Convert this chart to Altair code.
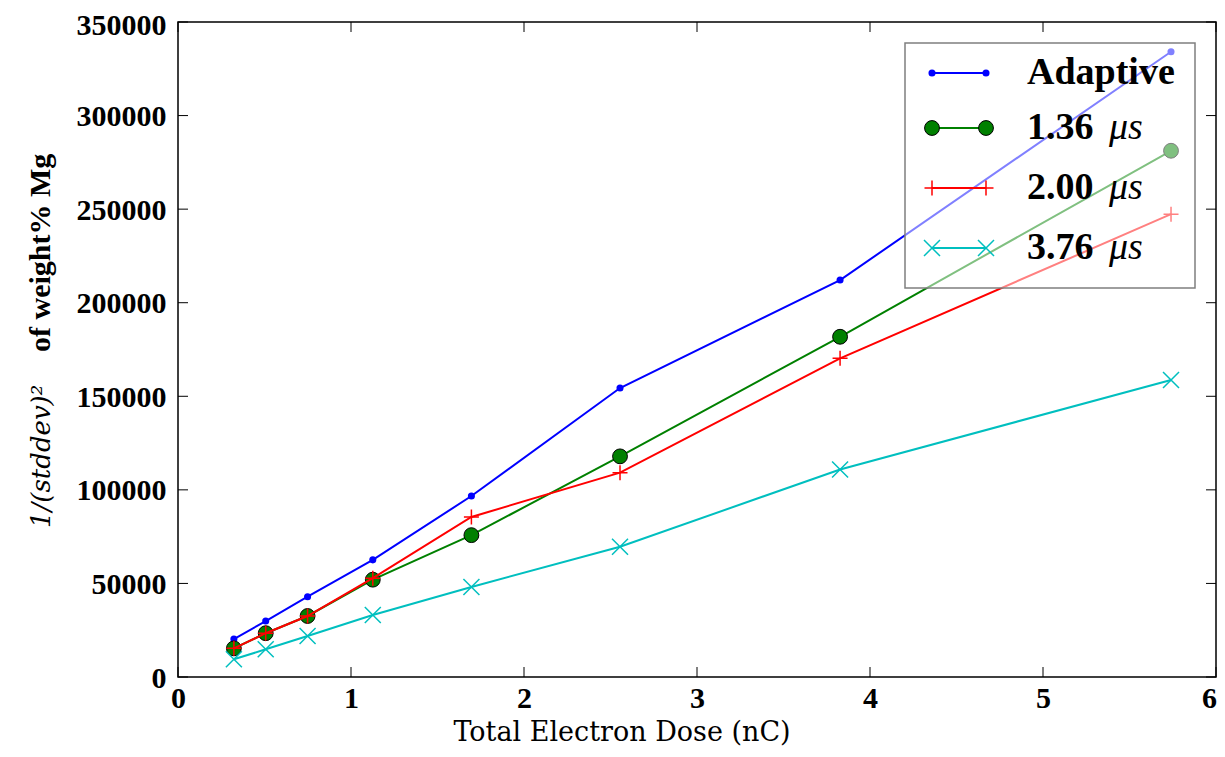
import altair as alt
import pandas as pd

# ---- data ----
dose = [0.323, 0.507, 0.749, 1.126, 1.696, 2.555, 3.827, 5.740]
adaptive = [20300, 29900, 42900, 62600, 96700, 154400, 212100, 334100]
us_136 = [15300, 23400, 32600, 52000, 75800, 117900, 181800, 281200]
us_200 = [15300, 23400, 32600, 52800, 85500, 109200, 170300, 247300]
us_376 = [9500, 14800, 21900, 33100, 48100, 69600, 110900, 158700]

series_names = ["Adaptive", "1.36", "2.00", "3.76"]
series_values = [adaptive, us_136, us_200, us_376]
series_colors = ["#0000ff", "#008000", "#ff0000", "#00bfbf"]

x_ticks = [0, 1, 2, 3, 4, 5, 6]
y_ticks = [0, 50000, 100000, 150000, 200000, 250000, 300000, 350000]

x_title = "Total Electron Dose (nC)"
y_title_math = "1/(stddev)²"
y_title_text = "of weight% Mg"

# ---- layout ----
W, H = 1038, 655
FONT = "DejaVu Serif"
BFONT = "Liberation Serif"
TICK = 10

rows = []
for name, vals in zip(series_names, series_values):
    for d, v in zip(dose, vals):
        rows.append({"series": name, "dose": d, "value": v})
df = pd.DataFrame(rows)

x_scale = alt.Scale(domain=[0, 6], nice=False, zero=False)
y_scale = alt.Scale(domain=[0, 350000], nice=False, zero=False)

label_kw = dict(labelFont=BFONT, labelFontSize=30, labelFontWeight="bold",
                labelColor="black", ticks=False, tickSize=0, domain=False,
                grid=False, title=None, labelFlush=False)
x_axis = alt.Axis(values=x_ticks, format="d", labelPadding=6,
                  labelOffset={"condition": {"test": "datum.value == 6", "value": -7}, "value": 0},
                  **label_kw)
y_axis = alt.Axis(values=y_ticks, format="d", labelPadding=12,
                  labelOffset={"condition": {"test": "datum.value == 350000", "value": 3}, "value": 1},
                  **label_kw)
X = alt.X("dose:Q", scale=x_scale, axis=x_axis)
Y = alt.Y("value:Q", scale=y_scale, axis=y_axis)

base = alt.Chart(df)


def sel(name):
    return base.transform_filter(alt.datum.series == name)


PLUS = "M-1,0L1,0M0,-1L0,1"
CROSS = "M-1,-1L1,1M-1,1L1,-1"

layers = []
# Adaptive
layers.append(sel("Adaptive").mark_line(color=series_colors[0], strokeWidth=2).encode(x=X, y=Y))
layers.append(sel("Adaptive").mark_circle(color=series_colors[0], size=50, opacity=1).encode(x=X, y=Y))
# 1.36
layers.append(sel("1.36").mark_line(color=series_colors[1], strokeWidth=2).encode(x=X, y=Y))
layers.append(sel("1.36").mark_point(shape="circle", filled=True, size=220, color=series_colors[1],
                                     fill=series_colors[1], stroke="black", strokeWidth=1,
                                     opacity=1, fillOpacity=1, strokeOpacity=1).encode(x=X, y=Y))
# 2.00
layers.append(sel("2.00").mark_line(color=series_colors[2], strokeWidth=2).encode(x=X, y=Y))
layers.append(sel("2.00").mark_point(shape=PLUS, filled=False, size=225, color=series_colors[2],
                                     strokeWidth=1.5, opacity=1).encode(x=X, y=Y))
# 3.76
layers.append(sel("3.76").mark_line(color=series_colors[3], strokeWidth=2).encode(x=X, y=Y))
layers.append(sel("3.76").mark_point(shape=CROSS, filled=False, size=256, color=series_colors[3],
                                     strokeWidth=1.5, opacity=1).encode(x=X, y=Y))

# inward ticks on all four sides (same scales and axes as the data)
xt = alt.Chart(pd.DataFrame({"dose": x_ticks}))
yt = alt.Chart(pd.DataFrame({"value": y_ticks}))
layers.append(xt.mark_rule(color="black", strokeWidth=1).encode(x=X, y=alt.value(H), y2=alt.value(H - TICK)))
layers.append(xt.mark_rule(color="black", strokeWidth=1).encode(x=X, y=alt.value(0), y2=alt.value(TICK)))
layers.append(yt.mark_rule(color="black", strokeWidth=1).encode(y=Y, x=alt.value(0), x2=alt.value(TICK)))
layers.append(yt.mark_rule(color="black", strokeWidth=1).encode(y=Y, x=alt.value(W), x2=alt.value(W - TICK)))

one = alt.Chart(pd.DataFrame({"k": [0]}))

# axis titles
layers.append(one.mark_text(text=x_title, font=FONT, fontSize=27, align="center",
                            baseline="alphabetic", color="black")
              .encode(x=alt.value(444), y=alt.value(719)))
layers.append(one.mark_text(text=y_title_math, font=FONT, fontSize=26, fontStyle="italic",
                            angle=270, align="left", baseline="alphabetic", color="black")
              .encode(x=alt.value(-128), y=alt.value(506)))
layers.append(one.mark_text(text=y_title_text, font=BFONT, fontSize=30, fontWeight="bold",
                            angle=270, align="left", baseline="alphabetic", color="black")
              .encode(x=alt.value(-128), y=alt.value(330)))

# legend (semi-transparent box drawn over the lines)
LX0, LX1, LY0, LY1 = 727, 1017, 21, 266
layers.append(one.mark_rect(fill="white", fillOpacity=0.5, stroke="#7f7f7f", strokeWidth=1.5)
              .encode(x=alt.value(LX0), x2=alt.value(LX1), y=alt.value(LY0), y2=alt.value(LY1)))
row_y = [51, 106, 166, 226]
sx0, sx1, tx = 754, 808, 849
marker_defs = [
    dict(size=50),
    dict(shape="circle", size=220),
    dict(shape=PLUS, size=225),
    dict(shape=CROSS, size=256),
]
for i, (name, col, ry, md) in enumerate(zip(series_names, series_colors, row_y, marker_defs)):
    layers.append(one.mark_rule(color=col, strokeWidth=2)
                  .encode(x=alt.value(sx0), x2=alt.value(sx1), y=alt.value(ry)))
    for px in (sx0, sx1):
        if i == 0:
            m = one.mark_circle(color=col, size=md["size"], opacity=1)
        elif i == 1:
            m = one.mark_point(shape="circle", filled=True, size=md["size"], color=col, fill=col,
                               stroke="black", strokeWidth=1, opacity=1, fillOpacity=1, strokeOpacity=1)
        else:
            m = one.mark_point(shape=md["shape"], filled=False, size=md["size"], color=col,
                               strokeWidth=1.5, opacity=1)
        layers.append(m.encode(x=alt.value(px), y=alt.value(ry)))
    layers.append(one.mark_text(text=name, font=BFONT, fontSize=38, fontWeight="bold",
                                align="left", baseline="middle", color="black")
                  .encode(x=alt.value(tx), y=alt.value(ry)))
    if i > 0:
        layers.append(one.mark_text(text="μs", font=BFONT, fontSize=38, fontStyle="italic",
                                    align="left", baseline="middle", color="black")
                      .encode(x=alt.value(tx + 82), y=alt.value(ry)))

chart = alt.layer(*layers).properties(
    width=W, height=H,
    padding={"left": 170, "top": 14, "right": 1, "bottom": 72},
    autosize=alt.AutoSizeParams(type="none"),
    background="white",
).configure_view(stroke="black", strokeWidth=1.5)

chart.save("out.html", embed_options={"renderer": "svg", "actions": False})
